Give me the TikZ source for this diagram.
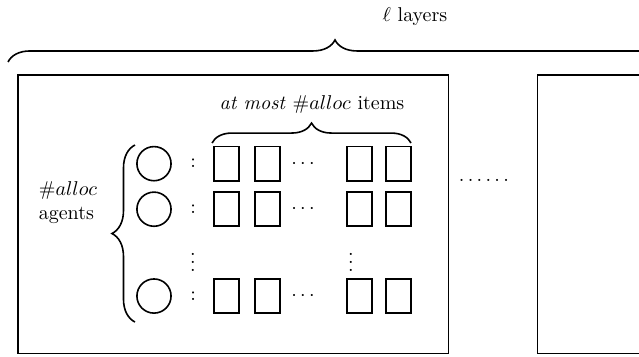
\documentclass[tikz,border=0pt]{standalone}
\usetikzlibrary{decorations.pathreplacing}
\begin{document}
\begin{tikzpicture}[thick,
agent/.style={draw,circle,minimum size=0.6cm,inner sep=0pt},
item/.style={draw,minimum width=0.44cm,minimum height=0.6cm,inner sep=0pt},
layer/.style={draw,inner sep=0pt,minimum height=4.894cm},
curly/.style={decorate,decoration={brace,amplitude=#1}}]
\clip (0,0) rectangle (11.229,6.256);

\node [layer,minimum width=7.565cm] (lay1) at (4.099,2.491) {};

\node [layer,minimum width=1.792cm] (lay2) at (10.342,2.491) {};

\node [] (between) at (8.505,3.093) {$\ldots\ldots$};

% top brace over the layers
\coordinate (t0) at (0.141,5.167);
\coordinate (t1) at (11.633,5.167);
\draw [curly=0.387cm] (t0) -- (t1);
\node [] (layers) at (7.293,5.957) {$\ell$ layers};

% agents
\coordinate (a0) at (2.372,0.597);
\coordinate (a1) at (2.372,3.708);
\draw [curly=0.404cm] (a0) -- (a1);
\node [align=left] (agents) at (1.195,2.689) {$\#alloc$\\agents};

\node [agent] (g1) at (2.706,3.38) {};

\node [agent] (g2) at (2.706,2.58) {};

\node [agent] (g3) at (2.706,1.054) {};

\node [] (c1) at (3.392,3.38) {$:$};

\node [] (c2) at (3.392,2.58) {$:$};

\node [] (c3) at (3.392,1.054) {$:$};

\node [] (v0) at (3.392,1.757) {$\vdots$};

% items
\coordinate (i0) at (3.726,3.743);
\coordinate (i1) at (7.223,3.743);
\draw [curly=0.35cm] (i0) -- (i1);
\node [] (most) at (5.483,4.411) {\textit{at most} $\#alloc$ items};

\node [item] (r11) at (3.980,3.38) {};
\node [item] (r12) at (4.701,3.38) {};
\node [] (d1) at (5.325,3.38) {$\cdots$};
\node [item] (r13) at (6.318,3.38) {};
\node [item] (r14) at (7.003,3.38) {};

\node [item] (r21) at (3.980,2.58) {};
\node [item] (r22) at (4.701,2.58) {};
\node [] (d2) at (5.325,2.58) {$\cdots$};
\node [item] (r23) at (6.318,2.58) {};
\node [item] (r24) at (7.003,2.58) {};

\node [] (v1) at (6.168,1.757) {$\vdots$};

\node [item] (r31) at (3.980,1.054) {};
\node [item] (r32) at (4.701,1.054) {};
\node [] (d3) at (5.325,1.054) {$\cdots$};
\node [item] (r33) at (6.318,1.054) {};
\node [item] (r34) at (7.003,1.054) {};

\end{tikzpicture}
\end{document}
